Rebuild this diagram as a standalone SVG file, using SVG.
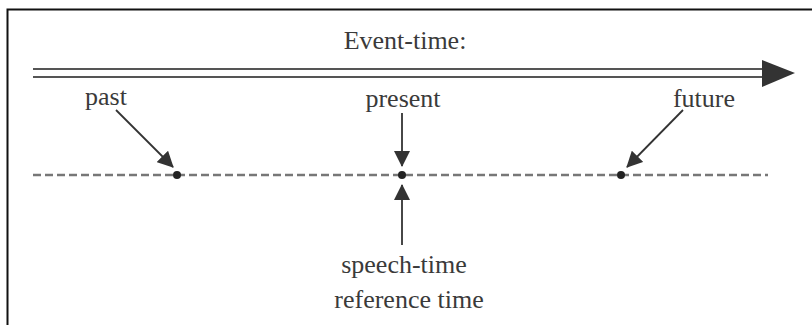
<svg xmlns="http://www.w3.org/2000/svg" width="812" height="325" viewBox="0 0 812 325">
  <style>
    .lbl { font-family: "Liberation Serif", "DejaVu Serif", serif; font-size: 26px; fill: #3a3a3a; text-anchor: middle; }
    .conn { stroke: #333; stroke-width: 1.8; fill: none; }
    .dash { stroke: #777; stroke-width: 2.4; stroke-dasharray: 8 4; fill: none; }
    .dot { fill: #222; }
  </style>
  <defs>
    <marker id="ah" markerUnits="userSpaceOnUse" markerWidth="16" markerHeight="16" viewBox="0 0 16 16" refX="15" refY="8" orient="auto">
      <path d="M0,0 L16,8 L0,16 Z" fill="#333"/>
    </marker>
  </defs>
  <rect width="812" height="325" fill="#fff"/>
  <!-- frame -->
  <path d="M7.5,325 L7.5,9.5 L812,9.5" stroke="#111" stroke-width="2" fill="none"/>

  <g id="timeline">
    <line x1="33" y1="69" x2="764" y2="69" stroke="#555" stroke-width="2"/>
    <line x1="33" y1="77" x2="764" y2="77" stroke="#555" stroke-width="2"/>
    <path d="M762,60 L795,73 L762,87 Z" fill="#333"/>
    <text class="lbl" x="405" y="49">Event-time:</text>
  </g>

  <g id="refline">
    <line class="dash" x1="33" y1="175" x2="768" y2="175"/>
  </g>

  <g id="past">
    <circle class="dot" cx="177" cy="175" r="4"/>
    <text class="lbl" x="106" y="105">past</text>
  </g>
  <g id="present">
    <circle class="dot" cx="402" cy="175" r="4"/>
    <text class="lbl" x="403" y="107">present</text>
  </g>
  <g id="future">
    <circle class="dot" cx="621" cy="175" r="4"/>
    <text class="lbl" x="704" y="107">future</text>
  </g>
  <g id="speech">
    <text class="lbl" x="404" y="273">speech-time</text>
    <text class="lbl" x="409" y="308">reference time</text>
  </g>

  <g id="connectors">
    <line class="conn" x1="116" y1="110" x2="173" y2="167" marker-end="url(#ah)"/>
    <line class="conn" x1="402" y1="113" x2="402" y2="166" marker-end="url(#ah)"/>
    <line class="conn" x1="683" y1="110" x2="627" y2="167" marker-end="url(#ah)"/>
    <line class="conn" x1="402" y1="245" x2="402" y2="185" marker-end="url(#ah)"/>
  </g>
</svg>
